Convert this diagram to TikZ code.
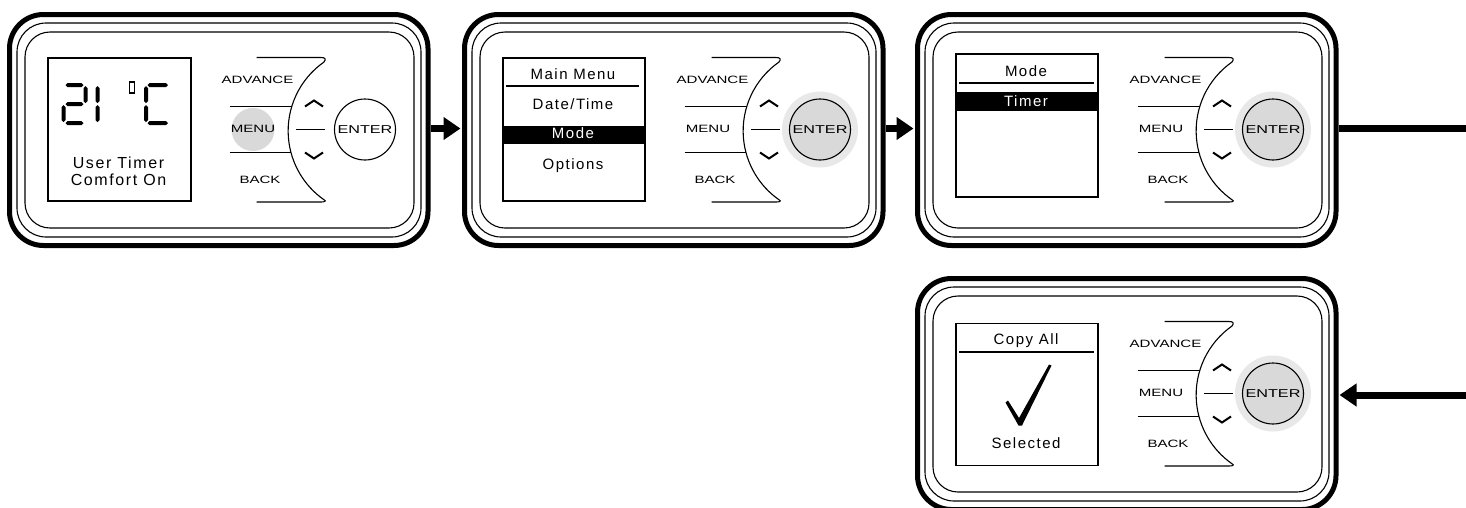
\documentclass[tikz,border=0pt]{standalone}
\usepackage{fontspec}
\setmainfont{Liberation Sans}
\newfontfamily\lcdA[LetterSpace=10]{Liberation Sans}
\newfontfamily\lcdB[LetterSpace=10]{Liberation Sans}
\newfontfamily\btnfont[FakeStretch=1.42]{Liberation Sans}
\usetikzlibrary{arrows.meta}

\tikzset{
 frame/.style={draw, line width=5pt, rounded corners=34pt, minimum width=418.5pt, minimum height=231pt, inner sep=0pt},
 thinframe/.style={line width=1.1pt, rounded corners=29pt},
 innerframe/.style={line width=1.1pt, rounded corners=25pt},
 padline/.style={line width=1.1pt},
 chev/.style={line width=2pt},
 lcdbox/.style={line width=1.4pt},
 btn/.style={font=\btnfont\fontsize{10.6}{12}\selectfont, inner sep=0pt, anchor=base},
 lcdbig/.style={font=\lcdA\fontsize{16}{19}\selectfont, inner sep=0pt, anchor=base},
 lcdtxt/.style={font=\lcdB\fontsize{15}{18}\selectfont, inner sep=0pt, anchor=base},
 enterbtn/.style={circle, draw, line width=1.1pt, minimum size=61pt, inner sep=0pt, font=\btnfont\fontsize{11.4}{13}\selectfont},
 flow/.style={line width=7pt, -{Triangle[length=17pt,width=22pt]}},
 flowline/.style={line width=7pt},
}

% 7-segment pieces
\newcommand\hseg[3]{\fill ({#1},{#3}) -- ({#1+2},{#3-2}) -- ({#2-2},{#3-2}) -- ({#2},{#3}) -- ({#2-2},{#3+2}) -- ({#1+2},{#3+2}) -- cycle;}
\newcommand\vseg[3]{\fill ({#1},{#2}) -- ({#1+2},{#2+2}) -- ({#1+2},{#3-2}) -- ({#1},{#3}) -- ({#1-2},{#3-2}) -- ({#1-2},{#2+2}) -- cycle;}

% frame of one panel (drawn in panel-local pixel coordinates)
\newcommand\panelframe[1]{%
 \node[frame] (#1) at (218.75,130) {};
 \draw[thinframe] (17,23) rectangle (421,237);
 \draw[innerframe] (25,32) rectangle (414,228);
}

% button cluster: #1 prefix, #2 ENTER fill
\newcommand\ctrlpad[2]{%
 \draw[padline] (256.5,57.5) -- (321,57.5) .. controls (325,57.5) and (326.5,59) .. (324,62)
   arc[start angle=-125,end angle=-235,radius=84.1]
   .. controls (326.5,201) and (325,202) .. (321,202) -- (256.5,202);
 \draw[padline] (229.5,106.5) -- (291.7,106.5);
 \draw[padline] (229.5,152.5) -- (291,152.5);
 \draw[padline] (296,129.5) -- (324.5,129.5);
 \draw[chev] (305,106.5) -- (314,100.5) -- (323,106.5);
 \draw[chev] (305,152.5) -- (314,158.5) -- (323,152.5);
 \node[btn] (#1adv) at (257.5,83.5) {ADVANCE};
 \node[btn] (#1menu) at (253,132.5) {MENU};
 \node[btn] (#1back) at (260,183) {BACK};
 \node[enterbtn, fill=#2] (#1enter) at (365,129.5) {ENTER};
}

\begin{document}
\begin{tikzpicture}[x=1pt,y=-1pt]
\useasboundingbox (0,0) rectangle (1466,507);
\fill[white] (0,0) rectangle (1466,507);

% ---------- panel 1 ----------
\begin{scope}
 \panelframe{p1}
 \fill[black!15] (253,129.5) circle (21.5);
 \ctrlpad{p1}{white}
 \draw[lcdbox] (48,58) rectangle (191,201);
 % 21
 \hseg{65.5}{83.5}{85}
 \vseg{85.5}{86}{103}
 \hseg{65.5}{83.5}{104}
 \vseg{63.5}{105}{122}
 \hseg{65.5}{83.5}{123}
 \vseg{97.5}{86}{103}
 \vseg{97.5}{105}{122}
 % degree
 \draw[line width=1.3pt] (129.5,82) rectangle (134.5,93);
 % C
 \hseg{147.5}{168}{85}
 \vseg{146}{86}{103}
 \vseg{146}{105}{122}
 \hseg{147.5}{168}{123}
 \node[lcdbig] (p1l1) at (118.5,168.5) {User Timer};
 \node[lcdbig] (p1l2) at (118.5,185.5) {Comfort On};
\end{scope}

% ---------- panel 2 ----------
\begin{scope}[shift={(455,0)}]
 \panelframe{p2}
 \fill[black!9] (365,129.5) circle (38);
 \ctrlpad{p2}{black!15}
 \draw[lcdbox] (48,58) rectangle (190,201);
 \node[lcdtxt] (p2h) at (118,79) {Main Menu};
 \draw[padline] (51,86) -- (184,86);
 \node[lcdtxt] (p2a) at (118,109) {Date/Time};
 \fill (48,126) rectangle (190,144);
 \node[lcdtxt, text=white] (p2b) at (118,138.5) {Mode};
 \node[lcdtxt] (p2c) at (118,169) {Options};
\end{scope}

% ---------- panel 3 ----------
\begin{scope}[shift={(908,0)}]
 \panelframe{p3}
 \fill[black!9] (365,129.5) circle (38);
 \ctrlpad{p3}{black!15}
 \draw[lcdbox] (48,54) rectangle (190,197);
 \node[lcdtxt] (p3h) at (118,76) {Mode};
 \draw[padline] (51,83) -- (186,83);
 \fill (48,92) rectangle (190,110.5);
 \node[lcdtxt, text=white] (p3a) at (118,106.5) {Timer};
\end{scope}

% ---------- panel 4 ----------
\begin{scope}[shift={(908,264)}]
 \panelframe{p4}
 \fill[black!9] (365,129.5) circle (38);
 \ctrlpad{p4}{black!15}
 \draw[lcdbox] (48,59.5) rectangle (190,201.5);
 \node[lcdtxt] (p4h) at (118,80) {Copy All};
 \draw[padline] (51,88) -- (186,88);
 \fill (97.5,138.5) -- (100,136.5) -- (111,154) -- (141,100.5) -- (143.5,101.5) -- (114,161.5) -- (110.5,161.5) -- cycle;
 \node[lcdtxt] (p4a) at (118,184) {Selected};
\end{scope}

% ---------- connectors ----------
\coordinate (out3) at (1470,128.5);
\coordinate (in4) at (1470,395);
\draw[flow, shorten >=1.5pt] ([yshift=1.5pt]p1.east) -- ([yshift=1.5pt]p2.west);
\draw[flow, shorten >=1.5pt] ([yshift=1.5pt]p2.east) -- ([yshift=1.5pt]p3.west);
\draw[flowline] ([yshift=1.5pt]p3.east) -- (out3);
\draw[flow, shorten >=1pt] (in4) -- ([yshift=-1pt]p4.east);
\end{tikzpicture}
\end{document}
